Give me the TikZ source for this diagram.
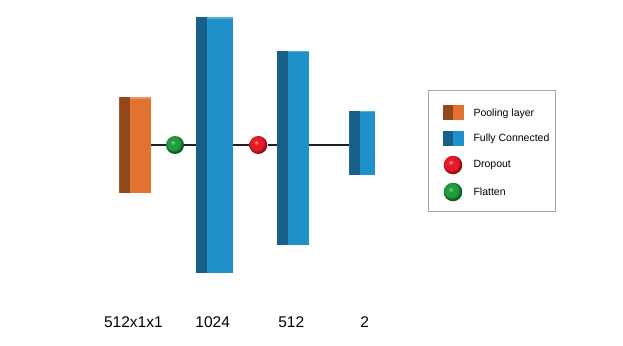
\documentclass[tikz,border=0pt]{standalone}
\usepackage{fontspec}
\setmainfont{Liberation Sans}
\definecolor{orfront}{RGB}{227,113,48}
\definecolor{ordark}{RGB}{146,72,28}
\definecolor{blfront}{RGB}{31,144,201}
\definecolor{bldark}{RGB}{22,96,138}
\definecolor{rhi}{RGB}{255,150,155}
\definecolor{rbase}{RGB}{228,28,42}
\definecolor{redge}{RGB}{150,10,20}
\definecolor{ghi}{RGB}{140,215,150}
\definecolor{gbase}{RGB}{34,155,64}
\definecolor{gedge}{RGB}{12,85,32}
\pgfdeclareradialshading{redball}{\pgfpoint{-7bp}{8bp}}{color(0bp)=(rhi); color(7bp)=(rbase); color(18bp)=(rbase); color(25bp)=(redge); color(50bp)=(redge)}
\pgfdeclareradialshading{greenball}{\pgfpoint{-7bp}{8bp}}{color(0bp)=(ghi); color(7bp)=(gbase); color(18bp)=(gbase); color(25bp)=(gedge); color(50bp)=(gedge)}
\tikzset{
  layerbox/.style n args={4}{rectangle, inner sep=0pt, draw=none, fill=#3,
    minimum width=#1, minimum height=#2,
    path picture={\fill[#4] (path picture bounding box.south west) rectangle ([xshift=11pt]path picture bounding box.north west);
      \fill[white,opacity=0.25] ([xshift=11pt]path picture bounding box.north west) rectangle ([yshift=-1.2pt]path picture bounding box.north east);}},
  iconbox/.style n args={2}{rectangle, inner sep=0pt, fill=#1, minimum width=21.6pt, minimum height=15pt,
    path picture={\fill[#2] (path picture bounding box.south west) rectangle ([xshift=10.6pt]path picture bounding box.north west);}},
  ballnode/.style={circle, inner sep=0pt, minimum size=#1, draw=none},
  redb/.style={shade, shading=redball},
  greenb/.style={shade, shading=greenball},
  conn/.style={line width=2.6pt, black!88},
  dimlabel/.style={font=\fontsize{15.5}{18}\selectfont, inner sep=0pt, anchor=base},
  legtext/.style={font=\fontsize{10.5}{12}\selectfont, anchor=west, inner sep=0pt},
}
\begin{document}
\begin{tikzpicture}[x=1pt,y=-1pt]
\useasboundingbox (0,0) rectangle (623,345);
% layers
\node[layerbox={31.7pt}{95.4pt}{orfront}{ordark}] (pool) at (135.2,145) {};
\node[ballnode=18pt, greenb] (flat) at (175,145) {};
\node[layerbox={36.7pt}{255.7pt}{blfront}{bldark}] (fc1) at (214.3,145.2) {};
\node[ballnode=18pt, redb] (drop) at (258.3,145) {};
\node[layerbox={32pt}{194.3pt}{blfront}{bldark}] (fc2) at (292.7,147.9) {};
\node[layerbox={25.7pt}{64.3pt}{blfront}{bldark}] (fc3) at (362.2,142.9) {};
% connectors
\draw[conn] (pool.east) -- (flat.west);
\draw[conn] (flat.east) -- (flat.east -| fc1.west);
\draw[conn] (fc1.east |- drop) -- (drop.west);
\draw[conn] (drop.east) -- (drop.east -| fc2.west);
\draw[conn] (fc2.east |- drop) -- (drop -| fc3.west);
% labels
\node[dimlabel] (l1) at (133.4,327.3) {512x1x1};
\node[dimlabel] (l2) at (212.7,327.3) {1024};
\node[dimlabel] (l3) at (291.2,327.3) {512};
\node[dimlabel] (l4) at (364.7,327.3) {2};
% legend
\node[draw=black!35, line width=0.6pt, fill=white, minimum width=126.3pt, minimum height=121.7pt, inner sep=0pt] (legend) at (491.85,150.85) {};
\node[iconbox={orfront}{ordark}] (ipool) at (453.5,112.5) {};
\node[iconbox={blfront}{bldark}] (ifc) at (453.5,138.5) {};
\node[ballnode=18.6pt, redb] (idrop) at (453,165) {};
\node[ballnode=18.6pt, greenb] (iflat) at (453,192) {};
\node[legtext] (tpool) at (473.3,113.3) {Pooling layer};
\node[legtext] (tfc) at (473.3,138.5) {Fully Connected};
\node[legtext] (tdrop) at (473.3,165) {Dropout};
\node[legtext] (tflat) at (473.3,192) {Flatten};
\end{tikzpicture}
\end{document}
